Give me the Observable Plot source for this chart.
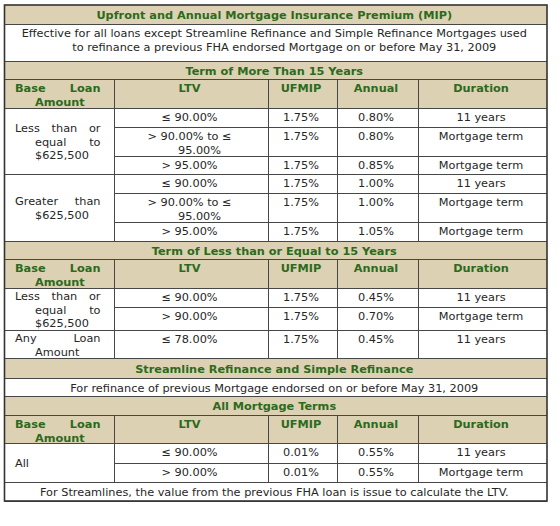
<!DOCTYPE html>
<html><head><meta charset="utf-8">
<script src="https://cdn.jsdelivr.net/npm/d3@7"></script>
<script src="https://cdn.jsdelivr.net/npm/@observablehq/plot@0.6"></script>
<style>body{margin:0;background:#fff}</style>
</head><body><div id="chart"></div>
<script>
// ---------- content ----------
const title = "Upfront and Annual Mortgage Insurance Premium (MIP)";
const introText = "Effective for all loans except Streamline Refinance and Simple Refinance Mortgages used\nto refinance a previous FHA endorsed Mortgage on or before May 31, 2009";
const sectionTitles = ["Term of More Than 15 Years", "Term of Less than or Equal to 15 Years", "Streamline Refinance and Simple Refinance", "All Mortgage Terms"];
const streamlineNote = "For refinance of previous Mortgage endorsed on or before May 31, 2009";
const footNote = "For Streamlines, the value from the previous FHA loan is issue to calculate the LTV.";
const headers = ["Base Loan\nAmount", "LTV", "UFMIP", "Annual", "Duration"];

// Term of more than 15 years
const longGroups = ["Less than or\nequal to\n$625,500", "Greater than\n$625,500"];
const longGroupRows = [3, 3];
const longLTV = ["≤ 90.00%", "> 90.00% to ≤\n95.00%", "> 95.00%", "≤ 90.00%", "> 90.00% to ≤\n95.00%", "> 95.00%"];
const longUFMIP = ["1.75%", "1.75%", "1.75%", "1.75%", "1.75%", "1.75%"];
const longAnnual = ["0.80%", "0.80%", "0.85%", "1.00%", "1.00%", "1.05%"];
const longDuration = ["11 years", "Mortgage term", "Mortgage term", "11 years", "Mortgage term", "Mortgage term"];

// Term of less than or equal to 15 years
const shortGroups = ["Less than or\nequal to\n$625,500", "Any Loan\nAmount"];
const shortGroupRows = [2, 1];
const shortLTV = ["≤ 90.00%", "> 90.00%", "≤ 78.00%"];
const shortUFMIP = ["1.75%", "1.75%", "1.75%"];
const shortAnnual = ["0.45%", "0.70%", "0.45%"];
const shortDuration = ["11 years", "Mortgage term", "11 years"];

// Streamline, all mortgage terms
const streamGroups = ["All"];
const streamGroupRows = [2];
const streamLTV = ["≤ 90.00%", "> 90.00%"];
const streamUFMIP = ["0.01%", "0.01%"];
const streamAnnual = ["0.55%", "0.55%"];
const streamDuration = ["11 years", "Mortgage term"];

// ---------- layout (scale ranges) ----------
const colEdges = [4.5, 114, 268, 337, 418, 547];
const rowEdges = [5, 24, 61, 79, 108, 127, 156, 174, 193, 222, 241, 259, 288, 307, 330, 358, 378, 396, 415, 443, 463, 482, 501];
const xOpts = {type: "linear", domain: d3.range(colEdges.length), range: colEdges, axis: null};
const yOpts = {type: "linear", domain: d3.range(rowEdges.length), range: rowEdges, axis: null};
const xs = Plot.scale({x: xOpts});
const ys = Plot.scale({y: yOpts});

const FONT = '"DejaVu Sans", Verdana, sans-serif';
const FS = 11.3, LH = 13.8;
const GREEN = "#2c6a1d", TAN = "#dcd2b3", INK = "#262626", LINE = "#474747";
const ctx = document.createElement("canvas").getContext("2d");
const measure = (t, bold) => { ctx.font = `${bold ? "bold " : ""}${FS}px "DejaVu Sans"`; return ctx.measureText(t).width; };

// ---------- structure ----------
const cells = [], fills = [], hRules = [], vRules = [];
let r = 0;
function band(text) {
  fills.push({r0: r, r1: r + 1});
  cells.push({c0: 0, c1: 5, r0: r, r1: r + 1, text, align: "center", valign: "middle", bold: true});
  hRules.push({y: r + 1, c0: 0, c1: 5});
  r++;
}
function note(text, valign) {
  cells.push({c0: 0, c1: 5, r0: r, r1: r + 1, text, align: "center", valign, bold: false});
  hRules.push({y: r + 1, c0: 0, c1: 5});
  r++;
}
function table(groups, groupRows, cols) {
  const top = r;
  fills.push({r0: r, r1: r + 1});
  headers.forEach((h, c) => cells.push({c0: c, c1: c + 1, r0: r, r1: r + 1, text: h, align: c === 0 ? "justify" : "center", valign: "top", bold: true}));
  hRules.push({y: r + 1, c0: 0, c1: 5});
  r++;
  let i = 0;
  groups.forEach((g, gi) => {
    const n = groupRows[gi];
    cells.push({c0: 0, c1: 1, r0: r, r1: r + n, text: g, align: "justify", valign: "middle", bold: false});
    for (let k = 0; k < n; k++, i++) {
      cols.forEach((col, c) => cells.push({c0: c + 1, c1: c + 2, r0: r, r1: r + 1, text: col[i], align: "center", valign: "top", bold: false}));
      hRules.push({y: r + 1, c0: k === n - 1 ? 0 : 1, c1: 5});
      r++;
    }
  });
  for (let c = 1; c < 5; c++) vRules.push({x: c, y1: top, y2: r});
}

band(title);
note(introText, "top");
band(sectionTitles[0]);
table(longGroups, longGroupRows, [longLTV, longUFMIP, longAnnual, longDuration]);
band(sectionTitles[1]);
table(shortGroups, shortGroupRows, [shortLTV, shortUFMIP, shortAnnual, shortDuration]);
band(sectionTitles[2]);
note(streamlineNote, "middle");
band(sectionTitles[3]);
table(streamGroups, streamGroupRows, [streamLTV, streamUFMIP, streamAnnual, streamDuration]);
note(footNote, "middle");

// ---------- cell text layout (padding + hanging indent) ----------
function layoutCell(cell) {
  const L0 = xs.apply(cell.c0), R0 = xs.apply(cell.c1);
  const right = R0 - 14, firstLeft = L0 + 10, restLeft = L0 + 30;
  const lines = cell.text.split("\n"), n = lines.length;
  const top = ys.apply(cell.r0), bottom = ys.apply(cell.r1);
  const out = [];
  lines.forEach((line, k) => {
    const left = k === 0 ? firstLeft : restLeft;
    const py = cell.valign === "top" ? top + 8.7 + k * LH : (top + bottom) / 2 + 0.5 + (k - (n - 1) / 2) * LH;
    if (cell.align === "center") out.push({px: (left + right) / 2, py, text: line, anchor: "middle"});
    else {
      const words = line.split(/\s+/);
      if (k === n - 1 || words.length === 1) out.push({px: left, py, text: line, anchor: "start"});
      else {
        const ws = words.map(w => measure(w, cell.bold));
        const gap = (right - left - d3.sum(ws)) / (words.length - 1);
        let x = left;
        words.forEach((w, i) => {
          if (i === words.length - 1) out.push({px: right, py, text: w, anchor: "end"});
          else out.push({px: x, py, text: w, anchor: "start"});
          x += ws[i] + gap;
        });
      }
    }
  });
  return out.map(o => ({x: xs.invert(o.px), y: ys.invert(o.py), text: o.text, anchor: o.anchor, bold: cell.bold}));
}
const items = cells.flatMap(layoutCell);

const textMarks = [];
for (const anchor of ["start", "middle", "end"]) for (const bold of [true, false]) {
  const d = items.filter(t => t.anchor === anchor && t.bold === bold);
  if (d.length) textMarks.push(Plot.text(d, {x: "x", y: "y", text: "text", textAnchor: anchor,
    fill: bold ? GREEN : INK, fontWeight: bold ? "bold" : "normal", fontSize: FS, fontFamily: FONT}));
}

const chart = Plot.plot({
  width: 560, height: 526, margin: 0,
  x: xOpts, y: yOpts,
  style: {background: "#fff", fontFamily: FONT},
  marks: [
    Plot.rect(fills, {x1: 0, x2: 5, y1: "r0", y2: "r1", fill: TAN}),
    Plot.ruleY(hRules, {y: "y", x1: "c0", x2: "c1", stroke: LINE, strokeWidth: 1}),
    Plot.ruleX(vRules, {x: "x", y1: "y1", y2: "y2", stroke: LINE, strokeWidth: 1}),
    Plot.rect([{}], {x1: 0, x2: 5, y1: 0, y2: rowEdges.length - 1, fill: "none", stroke: "#333", strokeWidth: 1.6}),
    ...textMarks
  ]
});
document.getElementById("chart").append(chart);
</script>
</body></html>
